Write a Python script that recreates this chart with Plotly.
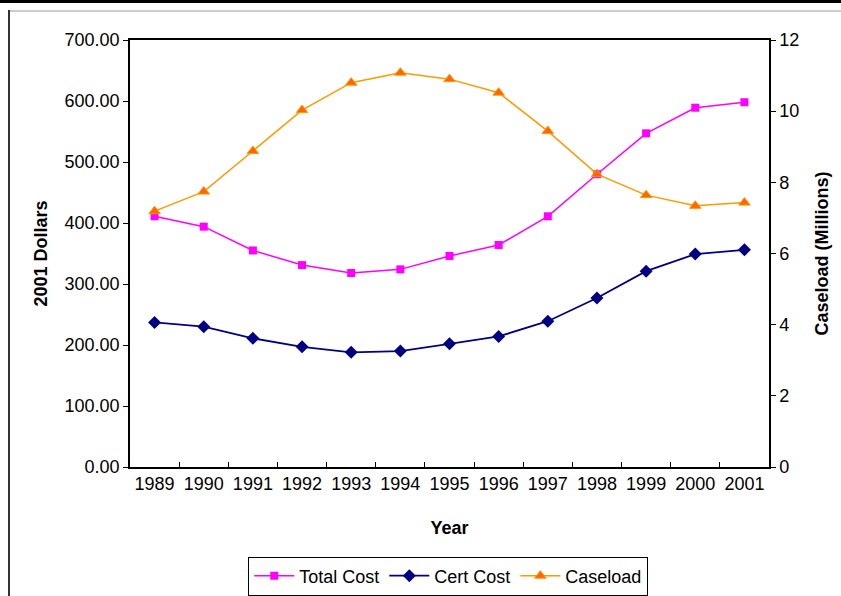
import plotly.graph_objects as go

years = ["1989", "1990", "1991", "1992", "1993", "1994", "1995", "1996", "1997", "1998", "1999", "2000", "2001"]
total_cost = [411, 394, 355, 331, 318, 324, 346, 364, 411, 480, 547, 589, 598]
cert_cost = [237, 230, 211, 197, 188, 190, 202, 214, 239, 277, 321, 349, 356]
caseload = [7.19, 7.74, 8.88, 10.03, 10.8, 11.08, 10.9, 10.52, 9.44, 8.23, 7.64, 7.34, 7.43]

FONT = "Liberation Sans, Arial, sans-serif"
W, H = 841, 596
L, R, T, B = 130, 72, 40, 129
pw, ph = W - L - R, H - T - B

def px(x):
    return (x - L) / pw

def py(y):
    return (H - B - y) / ph

fig = go.Figure()
fig.add_trace(go.Scatter(
    x=years, y=total_cost, name="Total Cost", mode="lines+markers",
    line=dict(color="#FF00FF", width=1.5),
    marker=dict(symbol="square", size=8, color="#FF00FF", line=dict(color="#FF00FF", width=0)),
))
fig.add_trace(go.Scatter(
    x=years, y=cert_cost, name="Cert Cost", mode="lines+markers",
    line=dict(color="#000080", width=1.8),
    marker=dict(symbol="diamond", size=10, color="#000080", line=dict(color="#000080", width=0)),
))
fig.add_trace(go.Scatter(
    x=years, y=caseload, name="Caseload", mode="lines+markers", yaxis="y2",
    line=dict(color="#FF9900", width=1.5),
    marker=dict(symbol="triangle-up", size=10, color="#FF6600", line=dict(color="#FF9900", width=1)),
))

fig.update_layout(
    width=W, height=H,
    margin=dict(l=L, r=R, t=T, b=B, autoexpand=False),
    paper_bgcolor="white", plot_bgcolor="white",
    font=dict(family=FONT, size=18, color="black"),
    showlegend=True,
    legend=dict(
        orientation="h", x=0.533, xref="container", xanchor="center",
        y=0.5 / H, yref="container", yanchor="bottom",
        bordercolor="black", borderwidth=1, bgcolor="white",
        font=dict(family=FONT, size=18, color="black"),
        itemwidth=40, tracegroupgap=0,
    ),
    xaxis=dict(
        type="category", tickson="boundaries", ticks="inside", ticklen=5,
        tickcolor="black", showline=True, linecolor="black", linewidth=1.5,
        mirror=True, showgrid=False, zeroline=False,
        range=[-0.5, 12.5],
        tickfont=dict(family=FONT, size=18),
        title=dict(text="<b>Year</b>", font=dict(family=FONT, size=18), standoff=28),
    ),
    yaxis=dict(
        range=[0, 700], dtick=100, tickformat=".2f", ticks="outside", ticklen=5,
        tickcolor="black", showline=True, linecolor="black", linewidth=1.5,
        showgrid=False, zeroline=False,
        tickfont=dict(family=FONT, size=18),
        title=dict(text="<b>2001 Dollars</b>", font=dict(family=FONT, size=18), standoff=12),
    ),
    yaxis2=dict(
        overlaying="y", side="right", range=[0, 12], dtick=2, ticks="outside", ticklen=5,
        tickcolor="black", showline=True, linecolor="black", linewidth=1.5,
        showgrid=False, zeroline=False,
        tickfont=dict(family=FONT, size=18),
        title=dict(text="<b>Caseload (Millions)</b>", font=dict(family=FONT, size=18), standoff=17),
    ),
    shapes=[
        dict(type="rect", xref="paper", yref="paper", x0=px(0), x1=px(W), y0=py(0), y1=py(3),
             fillcolor="black", line=dict(width=0), layer="above"),
        dict(type="line", xref="paper", yref="paper", x0=px(8), x1=px(W), y0=py(11), y1=py(11),
             line=dict(color="#999999", width=1), layer="above"),
        dict(type="line", xref="paper", yref="paper", x0=px(9), x1=px(9), y0=py(10), y1=py(H + 5),
             line=dict(color="#333333", width=2), layer="above"),
    ],
)

fig.write_html(
    "out.html",
    config={"displayModeBar": False},
    post_script="document.body.style.margin='0';document.body.style.padding='0';document.body.style.overflow='hidden';",
)
